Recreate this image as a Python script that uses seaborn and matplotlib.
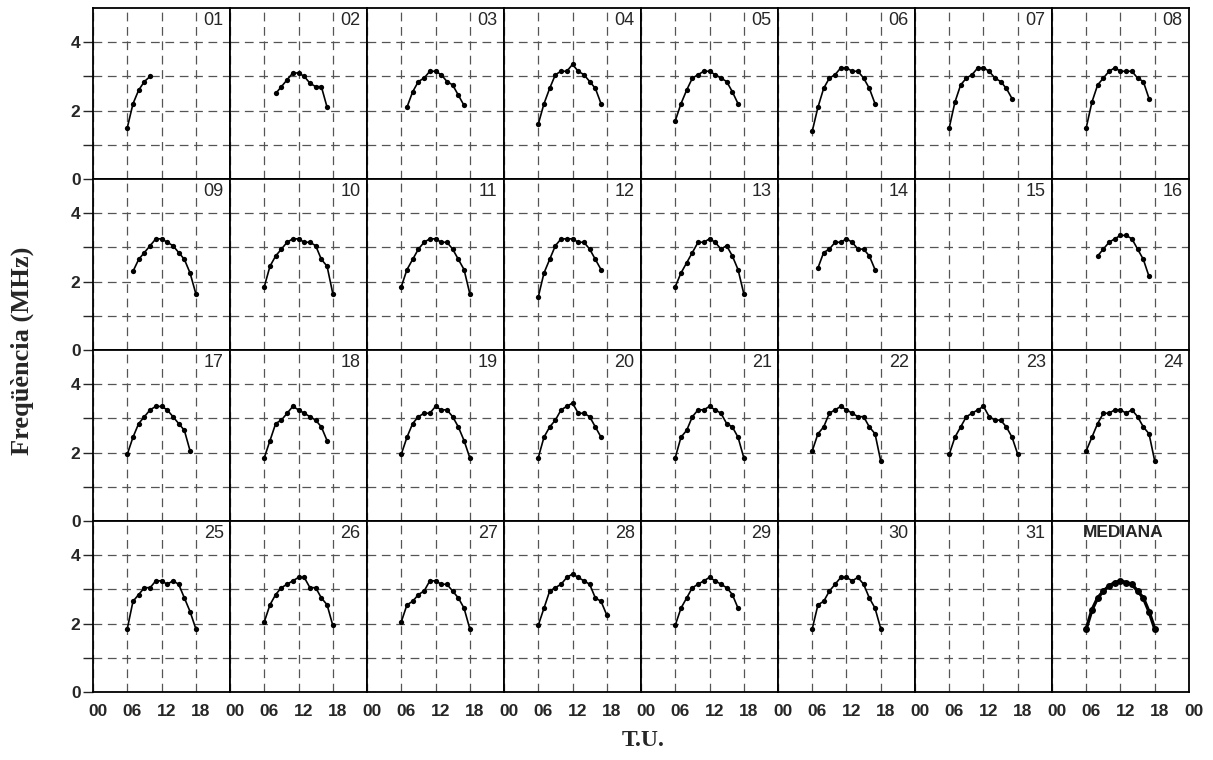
import numpy as np
import pandas as pd
import matplotlib
matplotlib.use("Agg")
import matplotlib.pyplot as plt
import matplotlib.transforms as mtransforms
import seaborn as sns

# hourly values (MHz) read per day, with first hour of each series
f01 = [1.5, 2.2, 2.6, 2.85, 3.0]
f02 = [2.5, 2.7, 2.9, 3.1, 3.1, 3.0, 2.8, 2.7, 2.7, 2.1]
f03 = [2.1, 2.55, 2.85, 2.95, 3.15, 3.15, 3.05, 2.85, 2.75, 2.45, 2.15]
f04 = [1.6, 2.2, 2.65, 3.05, 3.15, 3.15, 3.35, 3.15, 3.05, 2.85, 2.65, 2.2]
f05 = [1.7, 2.2, 2.6, 2.95, 3.05, 3.15, 3.15, 3.05, 2.95, 2.85, 2.55, 2.2]
f06 = [1.4, 2.1, 2.65, 2.95, 3.05, 3.25, 3.25, 3.15, 3.15, 2.95, 2.65, 2.2]
f07 = [1.5, 2.25, 2.75, 2.95, 3.05, 3.25, 3.25, 3.15, 2.95, 2.85, 2.65, 2.35]
f08 = [1.5, 2.25, 2.75, 2.95, 3.15, 3.25, 3.15, 3.15, 3.15, 2.95, 2.85, 2.35]
f09 = [2.3, 2.65, 2.85, 3.05, 3.25, 3.25, 3.15, 3.05, 2.85, 2.65, 2.25, 1.65]
f10 = [1.85, 2.45, 2.75, 2.95, 3.15, 3.25, 3.25, 3.15, 3.15, 3.05, 2.65, 2.45, 1.65]
f11 = [1.85, 2.35, 2.65, 2.95, 3.15, 3.25, 3.25, 3.15, 3.15, 2.95, 2.65, 2.35, 1.65]
f12 = [1.55, 2.25, 2.65, 3.05, 3.25, 3.25, 3.25, 3.15, 3.15, 2.95, 2.65, 2.35]
f13 = [1.85, 2.25, 2.55, 2.85, 3.15, 3.15, 3.25, 3.15, 2.95, 3.05, 2.75, 2.35, 1.65]
f14 = [2.4, 2.85, 2.95, 3.15, 3.15, 3.25, 3.15, 2.95, 2.95, 2.75, 2.35]
f15 = []
f16 = [2.75, 2.95, 3.15, 3.25, 3.35, 3.35, 3.25, 2.95, 2.65, 2.15]
f17 = [1.95, 2.45, 2.85, 3.05, 3.25, 3.35, 3.35, 3.25, 3.05, 2.85, 2.65, 2.05]
f18 = [1.85, 2.35, 2.85, 2.95, 3.15, 3.35, 3.25, 3.15, 3.05, 2.95, 2.75, 2.35]
f19 = [1.95, 2.45, 2.85, 3.05, 3.15, 3.15, 3.35, 3.25, 3.25, 3.05, 2.75, 2.35, 1.85]
f20 = [1.85, 2.45, 2.75, 2.95, 3.25, 3.35, 3.45, 3.15, 3.15, 3.05, 2.75, 2.45]
f21 = [1.85, 2.45, 2.65, 3.05, 3.25, 3.25, 3.35, 3.25, 3.15, 2.85, 2.75, 2.45, 1.85]
f22 = [2.05, 2.55, 2.75, 3.15, 3.25, 3.35, 3.25, 3.15, 3.05, 3.05, 2.75, 2.55, 1.75]
f23 = [1.95, 2.45, 2.75, 3.05, 3.15, 3.25, 3.35, 3.05, 2.95, 2.95, 2.75, 2.45, 1.95]
f24 = [2.05, 2.45, 2.85, 3.15, 3.15, 3.25, 3.25, 3.15, 3.25, 3.05, 2.75, 2.55, 1.75]
f25 = [1.85, 2.65, 2.85, 3.05, 3.05, 3.25, 3.25, 3.15, 3.25, 3.15, 2.75, 2.35, 1.85]
f26 = [2.05, 2.55, 2.85, 3.05, 3.15, 3.25, 3.35, 3.35, 3.05, 3.05, 2.75, 2.55, 1.95]
f27 = [2.05, 2.55, 2.65, 2.85, 2.95, 3.25, 3.25, 3.15, 3.15, 2.95, 2.75, 2.45, 1.85]
f28 = [1.95, 2.45, 2.95, 3.05, 3.15, 3.35, 3.45, 3.35, 3.25, 3.15, 2.75, 2.65, 2.25]
f29 = [1.95, 2.45, 2.75, 3.05, 3.15, 3.25, 3.35, 3.25, 3.15, 3.05, 2.85, 2.45]
f30 = [1.85, 2.55, 2.65, 2.95, 3.15, 3.35, 3.35, 3.25, 3.35, 3.15, 2.75, 2.45, 1.85]
f31 = []
mediana = [1.85, 2.4, 2.75, 2.95, 3.1, 3.2, 3.25, 3.2, 3.15, 2.95, 2.75, 2.35, 1.85]

series = [f01, f02, f03, f04, f05, f06, f07, f08, f09, f10, f11, f12, f13, f14, f15, f16,
          f17, f18, f19, f20, f21, f22, f23, f24, f25, f26, f27, f28, f29, f30, f31, mediana]
first_hour = [6, 8, 7, 6, 6, 6, 6, 6, 7, 6, 6, 6, 6, 7, 6, 8,
              6, 6, 6, 6, 6, 6, 6, 6, 6, 6, 6, 6, 6, 6, 6, 6]
panel_labels = [f"{d:02d}" for d in range(1, 32)] + ["MEDIANA"]

x_ticks = [0, 6, 12, 18]
x_ticklabels = ["00", "06", "12", "18"]
y_ticks = [0, 1, 2, 3, 4]
y_ticklabels = ["0", "", "2", "", "4"]

rows = []
for label, vals, h0 in zip(panel_labels, series, first_hour):
    for i, v in enumerate(vals):
        rows.append({"panel": label, "hour": h0 + i, "freq": v})
df = pd.DataFrame(rows)

sns.set_style("white")
plt.rcParams["font.family"] = ["Liberation Sans", "DejaVu Sans"]

fig, axes = plt.subplots(4, 8, figsize=(12.13, 7.6), dpi=100)
fig.subplots_adjust(left=0.0767, right=0.9802, top=0.9895, bottom=0.0895,
                    wspace=0, hspace=0)

# reference labels sit a few pixels right of their ticks
shift = mtransforms.ScaledTranslation(5 / 100, 0, fig.dpi_scale_trans)

for k, ax in enumerate(axes.flat):
    label = panel_labels[k]
    sub = df[df["panel"] == label]
    is_median = label == "MEDIANA"
    if len(sub):
        sns.lineplot(data=sub, x="hour", y="freq", ax=ax, color="black",
                     marker="o", markersize=5 if is_median else 3.8,
                     markeredgewidth=0, linewidth=2.4 if is_median else 1.2,
                     zorder=3)
    ax.set_xlim(0, 24)
    ax.set_ylim(0, 5)
    ax.set_xlabel("")
    ax.set_ylabel("")

    r, c = divmod(k, 8)
    if c == 7:
        ax.set_xticks(x_ticks + [24])
        ax.set_xticklabels(x_ticklabels + ["00"])
    else:
        ax.set_xticks(x_ticks)
        ax.set_xticklabels(x_ticklabels)
    ax.set_yticks(y_ticks)
    ax.set_yticklabels(y_ticklabels)

    ax.grid(True, linestyle=(0, (7, 4.5)), color="#555555", linewidth=0.9)
    ax.set_axisbelow(True)

    ax.tick_params(axis="x", length=0, pad=9, labelsize=12.5,
                   labelbottom=(r == 3))
    ax.tick_params(axis="y", length=7 if c == 0 else 0, width=1.0,
                   direction="out", pad=2, labelsize=12.5,
                   labelleft=(c == 0), left=(c == 0))
    for t in ax.get_xticklabels():
        t.set_fontweight("bold")
        t.set_transform(t.get_transform() + shift)
    for t in ax.get_yticklabels():
        t.set_fontweight("bold")

    for s in ax.spines.values():
        s.set_visible(True)
        s.set_linewidth(1.3)
        s.set_color("black")

    if is_median:
        ax.text(12.4, 4.65, label, ha="center", va="center",
                fontsize=12.5, fontweight="bold")
    else:
        ax.text(22.9, 4.62, label, ha="right", va="center", fontsize=13)

fig.text(0.018, 0.539, "Freqüència (MHz)", rotation=90, ha="center",
         va="center", fontsize=19, fontweight="bold",
         family=["Liberation Serif", "DejaVu Serif"])
fig.text(0.530, 0.026, "T.U.", ha="center", va="center", fontsize=17,
         fontweight="bold", family=["Liberation Serif", "DejaVu Serif"])

fig.savefig("out.png", dpi=100)
